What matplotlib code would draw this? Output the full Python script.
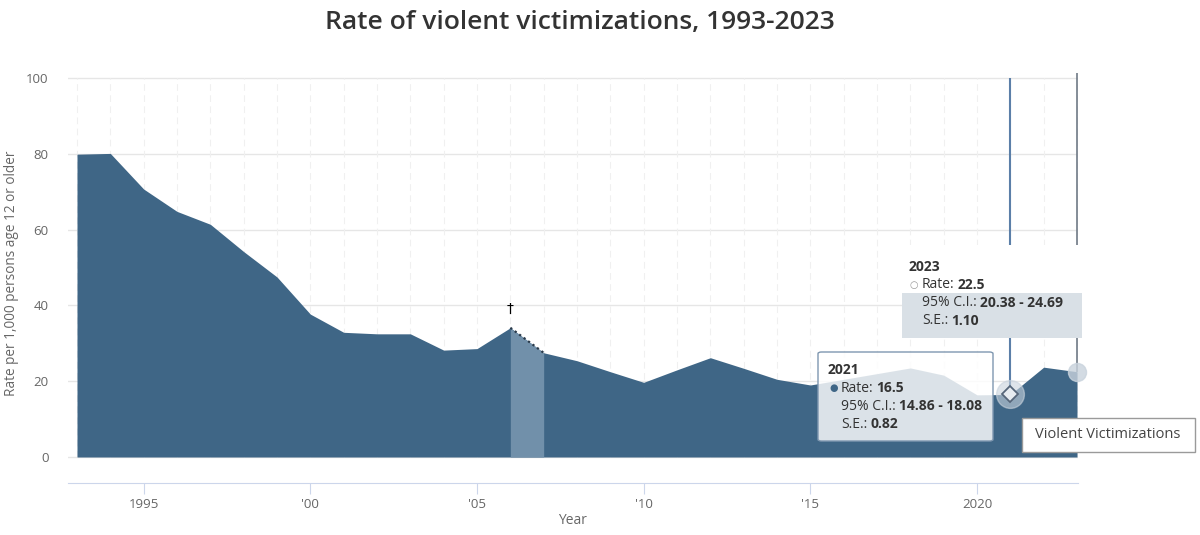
import matplotlib
matplotlib.use('Agg')
import matplotlib.pyplot as plt
from matplotlib.patches import FancyBboxPatch, Rectangle

plt.rcParams['font.family'] = ['Open Sans', 'DejaVu Sans']

# data
years = list(range(1993, 2024))
rates = [79.9, 80.1, 70.7, 64.8, 61.4, 54.2, 47.5, 37.7, 32.9, 32.5,
         32.5, 28.2, 28.6, 34.1, 27.5, 25.4, 22.5, 19.7, 23.0, 26.2,
         23.4, 20.5, 19.0, 20.5, 22.0, 23.5, 21.6, 16.4, 16.5, 23.7, 22.5]
y_ticks = [0, 20, 40, 60, 80, 100]
x_ticks = [1995, 2000, 2005, 2010, 2015, 2020]
x_labels = ['1995', "'00", "'05", "'10", "'15", '2020']
band_years = [2006, 2007]   # the lighter column with the dagger

tip_2021 = ['2021', '16.5', '14.86 - 18.08', '0.82']
tip_2023 = ['2023', '22.5', '20.38 - 24.69', '1.10']

W, H = 1200, 535
main_col = '#3f6686'
band_col = '#7190aa'
grey_txt = '#666666'

fig = plt.figure(figsize=(12, 5.35), dpi=100)
ax = fig.add_axes([68 / W, 52 / H, 1010 / W, 406.9 / H])

# grid
for v in y_ticks:
    ax.axhline(v, color='#e6e6e6', lw=1, zorder=0)
ax.vlines(years, 0, 100, color='#f0f0f0', lw=0.8, linestyles=(0, (6, 4)), zorder=0)

# area
ax.fill_between(years, rates, 0, color=main_col, lw=0, zorder=2)
i0 = years.index(band_years[0])
i1 = years.index(band_years[1])
ax.fill_between(years[i0:i1 + 1], rates[i0:i1 + 1], 0, color=band_col, lw=0, zorder=3)
ax.plot(years[i0:i1 + 1], rates[i0:i1 + 1], color='#2a3a4a', lw=1.6, ls=(0, (1, 1.5)), zorder=4)
ax.text(band_years[0], rates[i0] + 5, '\u2020', ha='center', va='center', fontsize=10,
        color='black', family=['DejaVu Sans'], zorder=4)

# hover lines and markers
ax.vlines(2021, rates[years.index(2021)], 100, color='#5b7fa8', lw=1.5, zorder=5, clip_on=False)
ax.vlines(2023, rates[-1], 101.3, color='#707a86', lw=1.2, zorder=5, clip_on=False)
ax.plot(2021, rates[years.index(2021)], 'o', ms=20, color='#c9d3dd', alpha=0.6, zorder=6)
ax.plot(2021, rates[years.index(2021)], marker='D', ms=8, mfc='#e6ebf0', mec='#56667a', mew=1.3, zorder=7)
ax.plot(2023, rates[-1], 'o', ms=13, color='#c9d3dd', alpha=0.8, zorder=6, clip_on=False)

ax.set_xlim(1992.73, 2023.03)
ax.set_ylim(-6.86, 100.5)
ax.set_yticks(y_ticks)
ax.set_xticks(x_ticks)
ax.set_xticklabels(x_labels)
for s in ['top', 'right', 'left']:
    ax.spines[s].set_visible(False)
ax.spines['bottom'].set_color('#ccd6eb')
ax.tick_params(axis='y', length=0, pad=14, labelsize=9.5, labelcolor=grey_txt)
ax.tick_params(axis='x', length=8, color='#ccd6eb', pad=3, labelsize=9.5, labelcolor=grey_txt)


def fx(x):
    return x / W


def fy(y):
    return 1 - y / H


fig.text(fx(12), fy(273), 'Rate per 1,000 persons age 12 or older', rotation=90,
         ha='center', va='center', fontsize=9.8, color=grey_txt)
fig.text(fx(573), fy(521), 'Year', ha='center', va='center', fontsize=10, color=grey_txt)
fig.text(fx(580), fy(23), 'Rate of violent victimizations, 1993-2023', ha='center', va='center',
         fontsize=19, fontweight='semibold', color='#333333')

renderer = fig.canvas.get_renderer()


def rich_line(x, y, parts, size=10):
    for text, weight in parts:
        t = fig.text(fx(x), fy(y), text, fontsize=size, fontweight=weight, color='#333333',
                     ha='left', va='center', zorder=8)
        bb = t.get_window_extent(renderer)
        x = bb.x1 + 3


def tooltip(x, y, tip, bullet):
    fig.text(fx(x), fy(y), tip[0], fontsize=10, fontweight='bold', color='#333333',
             ha='left', va='center', zorder=8)
    fig.text(fx(x + 1), fy(y + 18), bullet[0], fontsize=7, color=bullet[1],
             family=['DejaVu Sans'], ha='left', va='center', zorder=8)
    rich_line(x + 13, y + 18, [('Rate:', 'normal'), (tip[1], 'bold')])
    rich_line(x + 13, y + 36, [('95% C.I.:', 'normal'), (tip[2], 'bold')])
    rich_line(x + 13, y + 54, [('S.E.:', 'normal'), (tip[3], 'bold')])


# 2023 tooltip (opaque top, grey bottom)
fig.add_artist(Rectangle((fx(902), fy(338)), (1082 - 902) / W, (338 - 245) / H,
                         transform=fig.transFigure, facecolor='white', edgecolor='none', zorder=6))
fig.add_artist(Rectangle((fx(902), fy(338)), (1082 - 902) / W, (338 - 293) / H,
                         transform=fig.transFigure, facecolor='#d9e0e6', edgecolor='none', zorder=6))
tooltip(909, 267, tip_2023, ('\u25cb', '#999999'))

# 2021 tooltip (semi transparent)
fig.add_artist(FancyBboxPatch((fx(818), fy(441)), (993 - 818) / W, (441 - 352) / H,
                              boxstyle='round,pad=0,rounding_size=0.003', transform=fig.transFigure,
                              facecolor=(1, 1, 1, 0.82), edgecolor='#7f97b0', lw=1, zorder=6))
tooltip(828, 370, tip_2021, ('\u25cf', main_col))

# series name box
fig.add_artist(Rectangle((fx(1022), fy(452)), (1195 - 1022) / W, (452 - 418) / H,
                         transform=fig.transFigure, facecolor='white', edgecolor='#9a9a9a', lw=1, zorder=6))
fig.text(fx(1108), fy(435), 'Violent Victimizations', fontsize=10.5, color='#444444',
         ha='center', va='center', zorder=8)

fig.savefig('out.png', dpi=100)
